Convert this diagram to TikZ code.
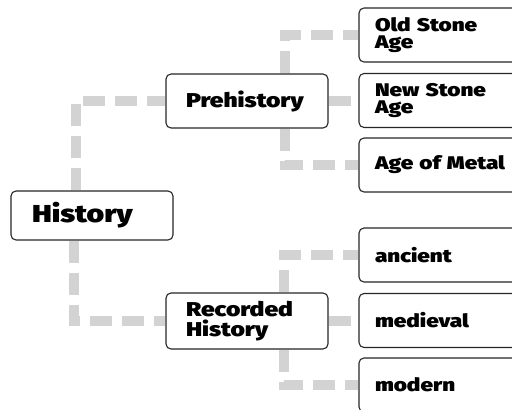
\documentclass[tikz,border=0pt]{standalone}
\usepackage{fontspec}
\newfontfamily\diafont{Fira Sans}[UprightFont={* Black}, FakeStretch=1.23]
\usetikzlibrary{backgrounds}
\definecolor{conngray}{HTML}{D3D3D3}
\tikzset{
  box/.style={draw=black!85, line width=1.1pt, rounded corners=5pt, fill=white,
    inner ysep=0pt, align=left, font=\diafont},
  root/.style={box, inner xsep=21pt, text width=120pt, minimum height=49pt,
    font=\diafont\fontsize{24.5}{25}\selectfont},
  lvl/.style={box, inner xsep=20pt, text width=122pt, minimum height=54pt,
    font=\diafont\fontsize{20}{19.5}\selectfont},
  leaf/.style={box, inner xsep=16pt, text width=150pt, minimum height=54pt,
    font=\diafont\fontsize{18.3}{17}\selectfont},
  conn/.style={draw=conngray, line width=10pt, dash pattern=on 22pt off 10pt}
}
\begin{document}
\begin{tikzpicture}[x=1pt, y=-1pt]
  \clip (0,0) rectangle (512,410);
  \node[root] (hist) at (92,215.5) {History};
  \node[lvl] (pre) at (247,101) {Prehistory};
  \node[lvl, minimum height=56pt] (rec) at (247,321) {Recorded\\History};
  \node[leaf] (old) at (450,35) {Old Stone\\Age};
  \node[leaf] (new) at (450,100.5) {New Stone\\Age};
  \node[leaf] (metal) at (450,165) {Age of Metal};
  \node[leaf] (anc) at (450,255) {ancient};
  \node[leaf] (med) at (450,320.5) {medieval};
  \node[leaf] (mod) at (450,385) {modern};
  \begin{scope}[on background layer]
    \draw[conn] ([xshift=66pt]hist.north west) |- (pre.west);
    \draw[conn] ([xshift=64pt]hist.south west) |- (rec.west);
    \draw[conn] ([xshift=120pt]pre.north west) |- (old.west);
    \draw[conn] (pre.east) -- (pre.east -| new.west);
    \draw[conn] ([xshift=120pt]pre.south west) |- (metal.west);
    \draw[conn] ([xshift=119pt]rec.north west) |- (anc.west);
    \draw[conn] (rec.east) -- (rec.east -| med.west);
    \draw[conn] ([xshift=119pt]rec.south west) |- (mod.west);
  \end{scope}
\end{tikzpicture}
\end{document}
